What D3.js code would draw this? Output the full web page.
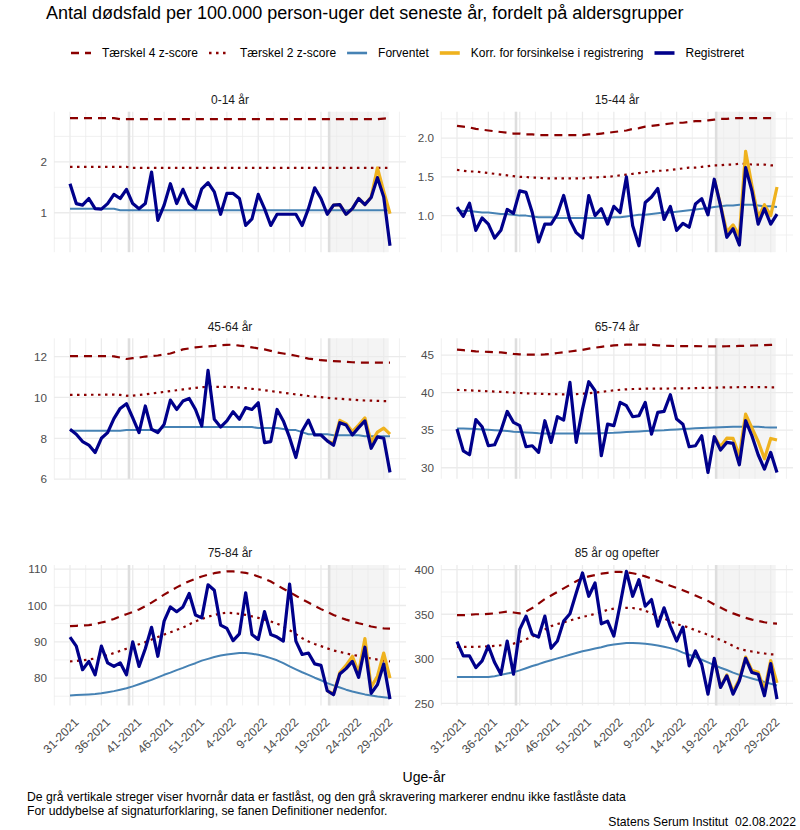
<!DOCTYPE html>
<html>
<head>
<meta charset="utf-8">
<script src="https://cdn.jsdelivr.net/npm/d3@7.9.0/dist/d3.min.js"></script>
<style>
  body { margin: 0; background: #fff; }
  svg { font-family: "Liberation Sans", Arial, sans-serif; }
</style>
</head>
<body>
<svg id="chart" width="800" height="830"></svg>
<script>
// uge-labels, 31-2021 .. 30-2022
const weeks = [
  "31-2021","32-2021","33-2021","34-2021","35-2021","36-2021","37-2021","38-2021","39-2021","40-2021",
  "41-2021","42-2021","43-2021","44-2021","45-2021","46-2021","47-2021","48-2021","49-2021","50-2021",
  "51-2021","52-2021","1-2022","2-2022","3-2022","4-2022","5-2022","6-2022","7-2022","8-2022",
  "9-2022","10-2022","11-2022","12-2022","13-2022","14-2022","15-2022","16-2022","17-2022","18-2022",
  "19-2022","20-2022","21-2022","22-2022","23-2022","24-2022","25-2022","26-2022","27-2022","28-2022",
  "29-2022","30-2022"
];
const tickWeeks = ["31-2021","36-2021","41-2021","46-2021","51-2021","4-2022","9-2022","14-2022","19-2022","24-2022","29-2022"];

// fastlåst-streger og ikke-fastlåst periode (i uger fra 31-2021)
const fixedLines = [9.4, 41.3];
const openPeriod = [41.3, 50.8];
const korrStart = 41; // korrigeret serie starter her

const groups = ["0-14 år", "15-44 år", "45-64 år", "65-74 år", "75-84 år", "85 år og opefter"];

// 0-14 år
const reg0 = [1.57,1.18,1.15,1.28,1.08,1.07,1.18,1.36,1.28,1.46,1.18,1.08,1.18,1.80,0.85,1.15,1.57,1.18,1.46,1.18,1.08,1.47,1.59,1.41,0.97,1.38,1.38,1.28,0.75,0.88,1.36,1.08,0.75,0.97,0.97,0.97,0.97,0.75,1.08,1.49,1.28,0.97,1.15,1.16,0.97,1.08,1.28,1.16,1.30,1.69,1.31,0.35];
const korr0 = [0.97,1.15,1.16,0.97,1.08,1.28,1.16,1.31,1.88,1.42,0.98];
const exp0 = [1.08,1.08,1.08,1.08,1.08,1.08,1.08,1.08,1.05,1.05,1.05,1.05,1.05,1.05,1.05,1.05,1.05,1.05,1.05,1.05,1.05,1.05,1.05,1.05,1.05,1.05,1.05,1.05,1.05,1.05,1.05,1.05,1.05,1.05,1.05,1.05,1.05,1.05,1.05,1.05,1.05,1.05,1.05,1.05,1.05,1.05,1.05,1.05,1.05,1.05,1.05,1.05];
const t2_0 = [1.90,1.90,1.90,1.90,1.90,1.90,1.90,1.90,1.90,1.90,1.88,1.88,1.88,1.88,1.88,1.88,1.88,1.88,1.88,1.88,1.88,1.88,1.88,1.88,1.88,1.88,1.88,1.88,1.88,1.88,1.88,1.88,1.88,1.88,1.88,1.88,1.88,1.88,1.88,1.88,1.88,1.88,1.88,1.88,1.88,1.88,1.88,1.88,1.88,1.88,1.88,1.88];
const t4_0 = [2.86,2.86,2.86,2.86,2.86,2.86,2.86,2.86,2.84,2.84,2.84,2.84,2.84,2.84,2.84,2.84,2.84,2.84,2.84,2.84,2.84,2.84,2.84,2.84,2.84,2.84,2.84,2.84,2.84,2.84,2.84,2.84,2.84,2.84,2.84,2.84,2.84,2.84,2.84,2.84,2.84,2.84,2.84,2.84,2.84,2.84,2.84,2.84,2.84,2.84,2.85,2.86];
const ticks0 = [1, 2];

// 15-44 år
const reg1 = [1.11,0.99,1.16,0.81,0.97,0.89,0.71,0.81,1.08,1.03,1.32,1.30,1.04,0.66,0.89,0.89,1.02,1.26,0.94,0.78,0.71,1.26,1.00,1.09,0.89,1.12,1.04,1.50,0.87,0.61,1.17,1.24,1.35,0.95,1.12,0.81,0.90,0.85,1.15,1.22,1.01,1.47,1.13,0.72,0.83,0.62,1.62,1.32,0.89,1.09,0.89,1.02];
const korr1 = [1.47,1.14,0.79,0.88,0.74,1.83,1.39,0.98,1.14,1.00,1.37];
const exp1 = [1.07,1.06,1.06,1.05,1.04,1.04,1.03,1.02,1.02,1.01,1.00,1.00,0.99,0.98,0.98,0.98,0.97,0.97,0.97,0.97,0.97,0.97,0.97,0.97,0.97,0.98,0.98,0.99,1.00,1.01,1.01,1.02,1.03,1.04,1.04,1.05,1.06,1.07,1.08,1.09,1.10,1.11,1.12,1.13,1.13,1.14,1.14,1.14,1.13,1.12,1.12,1.11];
const t2_1 = [1.59,1.58,1.57,1.57,1.56,1.55,1.54,1.53,1.52,1.51,1.50,1.50,1.49,1.49,1.48,1.48,1.48,1.48,1.48,1.48,1.48,1.49,1.49,1.50,1.50,1.51,1.52,1.53,1.54,1.55,1.56,1.57,1.58,1.58,1.59,1.60,1.61,1.62,1.62,1.63,1.64,1.65,1.65,1.66,1.66,1.67,1.67,1.66,1.66,1.66,1.65,1.65];
const t4_1 = [2.16,2.15,2.14,2.12,2.11,2.10,2.09,2.08,2.07,2.06,2.06,2.05,2.05,2.04,2.04,2.04,2.04,2.04,2.04,2.04,2.04,2.05,2.05,2.06,2.07,2.08,2.09,2.10,2.12,2.13,2.15,2.16,2.17,2.18,2.19,2.20,2.20,2.21,2.22,2.22,2.23,2.24,2.25,2.25,2.26,2.26,2.26,2.26,2.26,2.26,2.26,2.26];
const ticks1 = [1.0, 1.5, 2.0];

// 45-64 år
const reg2 = [8.44,8.20,7.84,7.67,7.30,8.00,8.28,8.96,9.46,9.69,9.00,8.28,9.58,8.44,8.28,8.68,9.87,9.41,9.82,9.95,9.41,8.60,11.32,8.93,8.55,8.85,9.30,8.93,9.50,9.41,9.74,7.79,7.84,9.41,8.85,8.03,7.06,8.36,8.89,8.16,8.16,7.87,7.66,8.76,8.65,8.16,8.52,8.85,7.51,8.07,8.00,6.33];
const korr2 = [7.87,7.75,8.88,8.72,8.33,8.65,9.00,7.80,8.30,8.50,8.20];
const exp2 = [8.37,8.37,8.37,8.37,8.37,8.37,8.37,8.37,8.37,8.40,8.40,8.40,8.40,8.40,8.40,8.55,8.55,8.55,8.55,8.55,8.55,8.55,8.55,8.55,8.55,8.55,8.55,8.55,8.55,8.55,8.50,8.50,8.50,8.50,8.45,8.40,8.40,8.30,8.20,8.20,8.20,8.20,8.15,8.15,8.15,8.15,8.15,8.10,8.10,8.10,8.10,8.10];
const t2_2 = [10.12,10.12,10.12,10.13,10.13,10.13,10.14,10.14,10.12,10.08,10.09,10.12,10.15,10.19,10.23,10.27,10.31,10.35,10.39,10.43,10.47,10.50,10.52,10.52,10.52,10.51,10.50,10.48,10.45,10.42,10.39,10.35,10.31,10.27,10.23,10.19,10.15,10.11,10.07,10.04,10.01,9.98,9.95,9.93,9.91,9.89,9.87,9.85,9.84,9.83,9.82,9.82];
const t4_2 = [12.02,12.02,12.02,12.02,12.02,12.02,12.02,12.01,11.95,11.88,11.92,11.95,12.00,12.02,12.05,12.10,12.15,12.25,12.35,12.40,12.45,12.48,12.50,12.52,12.55,12.57,12.58,12.53,12.50,12.45,12.40,12.35,12.28,12.20,12.15,12.10,12.04,11.97,11.90,11.86,11.82,11.80,11.78,11.76,11.74,11.72,11.70,11.70,11.70,11.70,11.70,11.70];
const ticks2 = [6, 8, 10, 12];

// 65-74 år
const reg3 = [35.15,32.26,31.73,36.40,35.46,32.93,33.06,34.93,37.50,36.04,35.60,32.80,32.93,32.04,36.26,33.37,36.79,36.35,41.36,33.37,37.80,41.45,40.25,31.60,35.80,35.60,38.70,38.26,36.79,36.92,38.70,34.48,37.37,37.50,39.72,36.48,35.80,32.80,32.93,34.26,29.38,34.13,32.35,33.37,33.24,30.40,36.26,34.26,31.73,29.82,32.04,29.38];
const korr3 = [34.13,32.80,33.95,33.90,31.60,37.15,35.30,33.50,31.20,33.90,33.70];
const exp3 = [35.24,35.24,35.20,35.15,35.10,35.05,35.00,34.95,34.90,34.80,34.75,34.70,34.65,34.60,34.57,34.57,34.57,34.57,34.57,34.57,34.57,34.57,34.57,34.60,34.62,34.65,34.70,34.75,34.80,34.84,34.88,34.92,34.96,35.00,35.06,35.10,35.15,35.20,35.25,35.28,35.32,35.36,35.40,35.43,35.46,35.46,35.46,35.46,35.45,35.40,35.37,35.37];
const t2_3 = [40.36,40.33,40.30,40.26,40.22,40.18,40.14,40.10,40.05,40.00,39.95,39.90,39.87,39.85,39.82,39.80,39.78,39.78,39.78,39.80,39.85,39.93,40.00,40.10,40.20,40.30,40.38,40.44,40.48,40.50,40.52,40.53,40.53,40.54,40.55,40.56,40.57,40.58,40.60,40.62,40.64,40.66,40.68,40.70,40.71,40.72,40.72,40.72,40.72,40.72,40.71,40.71];
const t4_3 = [45.71,45.65,45.58,45.50,45.45,45.42,45.38,45.35,45.25,45.15,45.10,45.06,45.05,45.05,45.08,45.15,45.27,45.37,45.47,45.58,45.70,45.85,45.98,46.10,46.20,46.28,46.33,46.38,46.38,46.38,46.38,46.36,46.30,46.25,46.22,46.20,46.20,46.19,46.18,46.17,46.16,46.15,46.15,46.17,46.19,46.21,46.24,46.27,46.30,46.33,46.36,46.38];
const ticks3 = [30, 35, 40, 45];

// 75-84 år
const reg4 = [91.3,88.8,82.3,84.6,80.9,88.8,84.2,83.2,84.2,80.9,90.0,83.2,88.1,94.0,86.0,95.7,99.6,98.3,99.6,103.3,97.4,96.6,105.7,104.2,94.6,93.7,90.3,92.2,103.5,92.0,90.6,98.3,92.0,91.3,90.2,105.9,90.2,86.5,86.9,83.9,83.5,76.5,75.4,81.1,82.6,84.6,80.2,88.5,75.8,78.2,83.9,74.2];
const korr4 = [76.5,75.6,81.5,83.5,86.0,81.5,90.9,77.5,80.5,86.9,80.0];
const exp4 = [75.2,75.3,75.4,75.5,75.6,75.8,76.1,76.4,76.8,77.2,77.7,78.3,78.9,79.5,80.2,80.9,81.5,82.2,82.8,83.5,84.1,84.8,85.3,85.8,86.2,86.5,86.7,86.9,86.9,86.7,86.4,86.0,85.5,84.9,84.1,83.2,82.4,81.6,80.9,80.1,79.4,78.6,78.0,77.4,76.8,76.3,75.9,75.5,75.2,74.9,74.7,74.5];
const t2_4 = [84.6,84.7,84.9,85.1,85.4,85.8,86.3,86.9,87.5,88.1,88.7,89.3,89.9,90.6,91.3,92.0,92.6,93.3,93.9,94.8,95.6,96.3,96.9,97.4,97.8,98.0,97.9,97.7,97.4,97.0,96.6,96.1,95.6,95.0,94.2,93.2,92.1,91.0,90.1,89.4,88.8,88.2,87.6,87.2,86.8,86.4,86.1,85.7,85.4,85.1,84.8,84.6];
const t4_4 = [94.3,94.4,94.5,94.6,94.9,95.3,95.7,96.3,97.0,97.6,98.2,98.9,99.8,100.8,101.9,103.0,104.0,105.0,105.9,106.7,107.4,108.0,108.5,108.9,109.2,109.4,109.4,109.2,109.0,108.6,108.0,107.4,106.6,105.6,104.6,103.7,102.7,101.7,100.8,99.9,99.0,98.2,97.4,96.7,96.1,95.6,95.1,94.7,94.2,93.9,93.7,93.6];
const ticks4 = [80, 90, 100, 110];

// 85 år og opefter
const reg5 = [319.2,303.2,303.2,290.2,297.6,314.4,295.8,282.7,320.0,282.7,333.0,347.9,327.4,324.4,347.9,311.8,320.0,342.3,350.5,373.9,396.3,370.2,385.1,339.3,342.3,325.6,360.9,398.1,370.2,388.8,359.0,366.5,336.7,357.2,336.7,320.0,335.6,292.1,308.8,293.9,260.4,300.6,267.9,280.9,260.4,275.3,300.6,284.6,282.7,258.6,294.7,254.8];
const korr5 = [300.6,268.5,282.0,263.0,277.0,302.0,287.0,285.0,265.0,298.0,273.0];
const exp5 = [279.5,279.5,279.5,279.5,279.5,279.5,280.5,282.0,283.5,285.0,287.0,289.5,292.0,294.0,296.5,298.5,300.5,302.5,304.5,306.5,308.5,310.0,311.5,313.0,315.0,316.0,317.0,317.8,317.8,317.5,317.0,316.0,315.0,313.5,312.0,310.0,307.0,304.5,302.0,299.0,296.0,293.0,290.0,287.5,284.5,282.0,280.0,278.0,276.0,274.0,272.0,270.0];
const t2_5 = [313.3,313.3,313.4,313.5,313.7,314.0,314.5,315.2,316.0,317.0,319.0,321.8,325.0,329.0,333.0,336.7,339.0,341.0,343.0,345.0,347.0,348.5,350.5,352.5,355.0,356.3,357.0,357.2,357.0,356.0,354.0,351.0,348.0,345.3,342.0,339.0,337.0,335.0,332.0,329.5,327.0,324.0,321.0,318.0,314.5,311.0,309.5,308.2,307.0,306.0,305.1,305.0];
const t4_5 = [349.0,349.0,349.5,350.0,350.0,350.5,351.0,352.0,353.0,352.0,351.0,353.0,357.0,362.0,367.0,371.0,375.0,379.0,383.0,387.0,390.5,392.5,394.0,395.5,396.5,397.5,397.5,397.0,396.0,394.5,392.5,390.0,387.5,385.0,382.0,379.5,377.0,374.0,371.0,368.0,365.0,361.0,357.5,354.0,351.0,348.5,346.0,344.0,342.5,341.0,340.0,339.5];
const ticks5 = [250, 300, 350, 400];

const panels = [
  { name: groups[0], reg: reg0, korr: korr0, exp: exp0, t2: t2_0, t4: t4_0, ticks: ticks0 },
  { name: groups[1], reg: reg1, korr: korr1, exp: exp1, t2: t2_1, t4: t4_1, ticks: ticks1 },
  { name: groups[2], reg: reg2, korr: korr2, exp: exp2, t2: t2_2, t4: t4_2, ticks: ticks2 },
  { name: groups[3], reg: reg3, korr: korr3, exp: exp3, t2: t2_3, t4: t4_3, ticks: ticks3 },
  { name: groups[4], reg: reg4, korr: korr4, exp: exp4, t2: t2_4, t4: t4_4, ticks: ticks4 },
  { name: groups[5], reg: reg5, korr: korr5, exp: exp5, t2: t2_5, t4: t4_5, ticks: ticks5 }
];

const legendItems = [
  { label: "Tærskel 4 z-score", key: "t4" },
  { label: "Tærskel 2 z-score", key: "t2" },
  { label: "Forventet", key: "exp" },
  { label: "Korr. for forsinkelse i registrering", key: "korr" },
  { label: "Registreret", key: "reg" }
];

const styles = {
  t4:   { color: "#8B0000", width: 2.2, dash: "8,6" },
  t2:   { color: "#8B0000", width: 2.2, dash: "2.5,4.5" },
  exp:  { color: "#4682B4", width: 2, dash: null },
  korr: { color: "#EFB21E", width: 3.2, dash: null },
  reg:  { color: "#00008B", width: 3.2, dash: null }
};

const svg = d3.select('#chart');

// layout
const colX = [[54, 406], [441, 793]];
const rowTop = [111.7, 338.3, 565];
const panelH = 140.5;
const gridColor = "#EBEBEB";
const textGrey = "#4D4D4D";

// titel
svg.append('text')
  .attr('x', 46).attr('y', 19)
  .attr('font-size', 18)
  .attr('fill', '#000')
  .text('Antal dødsfald per 100.000 person-uger det seneste år, fordelt på aldersgrupper');

// legend
let lx = 71;
legendItems.forEach(item => {
  let st = styles[item.key];
  svg.append('line')
    .attr('x1', lx).attr('x2', lx + 20)
    .attr('y1', 53).attr('y2', 53)
    .attr('stroke', st.color)
    .attr('stroke-width', st.width + (item.key === 'exp' ? 0.6 : 0.4))
    .attr('stroke-dasharray', st.dash);
  let t = svg.append('text')
    .attr('x', lx + 31).attr('y', 57.4)
    .attr('font-size', 12)
    .attr('fill', '#000')
    .text(item.label);
  lx = lx + 31 + t.node().getComputedTextLength() + 11;
});

const n = weeks.length;
const xPad = (n - 1) * 0.05;
const tickIdx = tickWeeks.map(w => weeks.indexOf(w));

panels.forEach((p, k) => {
  let col = k % 2;
  let row = Math.floor(k / 2);
  let top = rowTop[row];
  let bottom = top + panelH;

  let x = d3.scaleLinear().domain([-xPad, n - 1 + xPad]).range(colX[col]);

  let all = p.reg.concat(p.korr, p.exp, p.t2, p.t4);
  let lo = d3.min(all), hi = d3.max(all);
  let yPad = (hi - lo) * 0.05;
  let y = d3.scaleLinear().domain([lo - yPad, hi + yPad]).range([bottom, top]);

  let g = svg.append('g');

  // skravering af ikke-fastlåste data
  g.append('rect')
    .attr('x', x(openPeriod[0]))
    .attr('width', x(openPeriod[1]) - x(openPeriod[0]))
    .attr('y', top).attr('height', panelH)
    .attr('fill', '#F4F4F4');

  // gitter: minor + major
  let step = p.ticks[1] - p.ticks[0];
  let yMinor = [];
  for (let v = p.ticks[0] - step / 2; v <= y.domain()[1]; v += step) {
    if (v >= y.domain()[0]) yMinor.push(v);
  }
  let xMinor = [];
  for (let v = tickIdx[0] - 2.5; v <= x.domain()[1]; v += 5) {
    if (v >= x.domain()[0]) xMinor.push(v);
  }
  g.selectAll('.ymin').data(yMinor).enter().append('line')
    .attr('x1', colX[col][0]).attr('x2', colX[col][1])
    .attr('y1', d => y(d)).attr('y2', d => y(d))
    .attr('stroke', gridColor).attr('stroke-width', 0.7);
  g.selectAll('.xmin').data(xMinor).enter().append('line')
    .attr('x1', d => x(d)).attr('x2', d => x(d))
    .attr('y1', top).attr('y2', bottom)
    .attr('stroke', gridColor).attr('stroke-width', 0.7);
  g.selectAll('.ymaj').data(p.ticks).enter().append('line')
    .attr('x1', colX[col][0]).attr('x2', colX[col][1])
    .attr('y1', d => y(d)).attr('y2', d => y(d))
    .attr('stroke', gridColor).attr('stroke-width', 1.3);
  g.selectAll('.xmaj').data(tickIdx).enter().append('line')
    .attr('x1', d => x(d)).attr('x2', d => x(d))
    .attr('y1', top).attr('y2', bottom)
    .attr('stroke', gridColor).attr('stroke-width', 1.3);

  // grå streger: hvornår data er fastlåst
  g.selectAll('.fixed').data(fixedLines).enter().append('line')
    .attr('x1', d => x(d)).attr('x2', d => x(d))
    .attr('y1', top).attr('y2', bottom)
    .attr('stroke', '#DEDEDE').attr('stroke-width', 2.6);

  let line = d3.line().x(d => x(d[0])).y(d => y(d[1]));
  const series = {
    t4: p.t4.map((v, i) => [i, v]),
    t2: p.t2.map((v, i) => [i, v]),
    exp: p.exp.map((v, i) => [i, v]),
    korr: p.korr.map((v, i) => [korrStart + i, v]),
    reg: p.reg.map((v, i) => [i, v])
  };
  ['t4', 't2', 'exp', 'korr', 'reg'].forEach(key => {
    let st = styles[key];
    g.append('path')
      .attr('d', line(series[key]))
      .attr('fill', 'none')
      .attr('stroke', st.color)
      .attr('stroke-width', st.width)
      .attr('stroke-dasharray', st.dash)
      .attr('stroke-linejoin', 'round');
  });

  // strip-titel
  svg.append('text')
    .attr('x', (colX[col][0] + colX[col][1]) / 2)
    .attr('y', top - 7.7)
    .attr('text-anchor', 'middle')
    .attr('font-size', 12)
    .attr('fill', '#1A1A1A')
    .text(p.name);

  // y-akse
  let fmt = k === 1 ? d3.format('.1f') : d3.format('d');
  let yAxis = svg.append('g')
    .attr('transform', `translate(${colX[col][0]},0)`)
    .call(d3.axisLeft(y).tickValues(p.ticks).tickFormat(fmt).tickSize(0).tickPadding(7));
  yAxis.select('.domain').remove();
  yAxis.selectAll('text')
    .attr('font-size', 11.7)
    .attr('font-family', '"Liberation Sans", Arial, sans-serif')
    .attr('fill', textGrey);

  // x-akse kun i nederste række
  if (row === 2) {
    let xAxis = svg.append('g')
      .attr('transform', `translate(0,${bottom})`)
      .call(d3.axisBottom(x).tickValues(tickIdx).tickFormat(i => weeks[i]).tickSize(0));
    xAxis.select('.domain').remove();
    xAxis.selectAll('text')
      .attr('x', 0).attr('y', 0).attr('dy', 0)
      .attr('text-anchor', 'end')
      .attr('transform', 'translate(9,17.5) rotate(-45)')
      .attr('font-size', 12)
      .attr('font-family', '"Liberation Sans", Arial, sans-serif')
      .attr('fill', textGrey);
  }
});

// akse-titel og noter
svg.append('text')
  .attr('x', 424).attr('y', 781.5)
  .attr('text-anchor', 'middle')
  .attr('font-size', 14)
  .attr('fill', '#000')
  .text('Uge-år');

svg.append('text')
  .attr('x', 27).attr('y', 801)
  .attr('font-size', 12.2)
  .attr('fill', '#000')
  .text('De grå vertikale streger viser hvornår data er fastlåst, og den grå skravering markerer endnu ikke fastlåste data');
svg.append('text')
  .attr('x', 27).attr('y', 815)
  .attr('font-size', 12.2)
  .attr('fill', '#000')
  .text('For uddybelse af signaturforklaring, se fanen Definitioner nedenfor.');
svg.append('text')
  .attr('x', 796).attr('y', 826)
  .attr('text-anchor', 'end')
  .attr('font-size', 12.2)
  .attr('fill', '#000')
  .text('Statens Serum Institut\u00A0\u00A002.08.2022');
</script>
</body>
</html>
